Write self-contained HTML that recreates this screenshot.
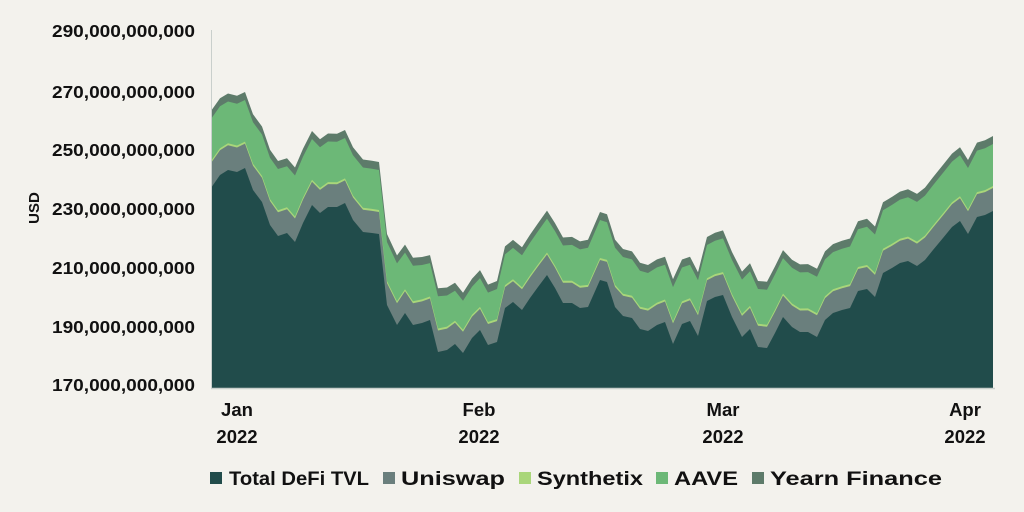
<!DOCTYPE html>
<html><head><meta charset="utf-8"><style>
html,body{margin:0;padding:0;background:#f3f2ed;}
svg{display:block;font-family:"Liberation Sans",sans-serif;font-weight:bold;}
</style></head><body>
<svg id="s" width="1024" height="512" viewBox="0 0 1024 512" xmlns="http://www.w3.org/2000/svg">
<rect width="1024" height="512" fill="#f3f2ed"/>
<g id="areas"></g>
<line x1="211" y1="388.5" x2="995" y2="388.5" stroke="#c9cfcc" stroke-width="1.5"/>
<line x1="211.5" y1="30" x2="211.5" y2="388" stroke="#c9cfcc" stroke-width="1"/>
<g font-size="17.5" fill="#111">
<text x="52" y="37" textLength="143" lengthAdjust="spacingAndGlyphs">290,000,000,000</text>
<text x="52" y="98" textLength="143" lengthAdjust="spacingAndGlyphs">270,000,000,000</text>
<text x="52" y="156" textLength="143" lengthAdjust="spacingAndGlyphs">250,000,000,000</text>
<text x="52" y="215" textLength="143" lengthAdjust="spacingAndGlyphs">230,000,000,000</text>
<text x="52" y="274" textLength="143" lengthAdjust="spacingAndGlyphs">210,000,000,000</text>
<text x="52" y="333" textLength="143" lengthAdjust="spacingAndGlyphs">190,000,000,000</text>
<text x="52" y="391" textLength="143" lengthAdjust="spacingAndGlyphs">170,000,000,000</text>
</g>
<text transform="translate(39,208) rotate(-90)" font-size="15" fill="#111" text-anchor="middle">USD</text>
<g font-size="18.5" fill="#111" text-anchor="middle">
<text x="237" y="416">Jan</text><text x="237" y="443">2022</text>
<text x="479" y="416">Feb</text><text x="479" y="443">2022</text>
<text x="723" y="416">Mar</text><text x="723" y="443">2022</text>
<text x="965" y="416">Apr</text><text x="965" y="443">2022</text>
</g>
<g font-size="19" fill="#111">
<rect x="210" y="472" width="12" height="12" fill="#214c4b"/><text x="229" y="485" textLength="140" lengthAdjust="spacingAndGlyphs">Total DeFi TVL</text>
<rect x="383" y="472" width="12" height="12" fill="#6a7f7d"/><text x="401" y="485" textLength="104" lengthAdjust="spacingAndGlyphs">Uniswap</text>
<rect x="519" y="472" width="12" height="12" fill="#a9d67a"/><text x="537" y="485" textLength="106" lengthAdjust="spacingAndGlyphs">Synthetix</text>
<rect x="656" y="472" width="12" height="12" fill="#6cb877"/><text x="674" y="485" textLength="64" lengthAdjust="spacingAndGlyphs">AAVE</text>
<rect x="752" y="472" width="12" height="12" fill="#5d7b6a"/><text x="770" y="485" textLength="172" lengthAdjust="spacingAndGlyphs">Yearn Finance</text>
</g>
</svg>
<script>
var P=[[211,188],[220,175],[228,170],[237,172],[245,168],[253,190],[262,202],[270,225],[278,236],[287,233],[295,242],[303,223],[312,205],[320,213],[328,207],[337,207],[345,203],[353,220],[363,232],[372,233],[379,234],[387,305],[397,325],[405,313],[413,325],[422,323],[430,320],[438,352],[447,350],[455,344],[463,353],[472,338],[480,330],[488,345],[497,342],[505,308],[513,302],[522,310],[530,298],[538,287],[547,275],[555,288],[563,303],[572,303],[580,308],[588,307],[600,280],[607,282],[615,307],[623,316],[632,318],[640,329],[648,331],[657,325],[665,322],[673,344],[682,324],[690,321],[698,336],[707,301],[715,297],[723,295],[732,317],[742,337],[750,329],[758,347],[767,348],[775,333],[783,317],[792,327],[800,332],[808,332],[817,337],[825,320],[833,313],[842,310],[850,308],[858,291],[867,289],[875,297],[883,273],[892,268],[900,263],[908,261],[917,266],[925,260],[933,250],[943,238],[952,227],[960,221],[968,234],[977,217],[985,215],[993,211]];
function interp(x,k){for(var i=0;i<k.length-1;i++){if(x<=k[i+1][0]){var t=(x-k[i][0])/(k[i+1][0]-k[i][0]);return k[i][1]+t*(k[i+1][1]-k[i][1]);}}return k[k.length-1][1];}
var uni=[[211,25],[380,22],[600,20],[993,23]];
var aave=[[211,42],[380,40],[470,28],[600,38],[700,33],[993,42]];
var yrn=[[211,8],[993,8]];
var L0=P.map(function(p){return [p[0],p[1]];});
var L1=L0.map(function(p){return [p[0],p[1]-interp(p[0],uni)];});
var L2=L1.map(function(p){return [p[0],p[1]-2];});
var L3=L2.map(function(p){return [p[0],p[1]-interp(p[0],aave)];});
var L4=L3.map(function(p){return [p[0],p[1]-interp(p[0],yrn)];});
function poly(top,col){var d="M211,388 ";top.forEach(function(p){d+="L"+p[0]+","+p[1].toFixed(1)+" ";});d+="L993,388 Z";return '<path d="'+d+'" fill="'+col+'"/>';}
document.getElementById("areas").innerHTML=poly(L4,"#5d7b6a")+poly(L3,"#6cb877")+poly(L2,"#a9d67a")+poly(L1,"#6a7f7d")+poly(L0,"#214c4b");
</script>
</body></html>
